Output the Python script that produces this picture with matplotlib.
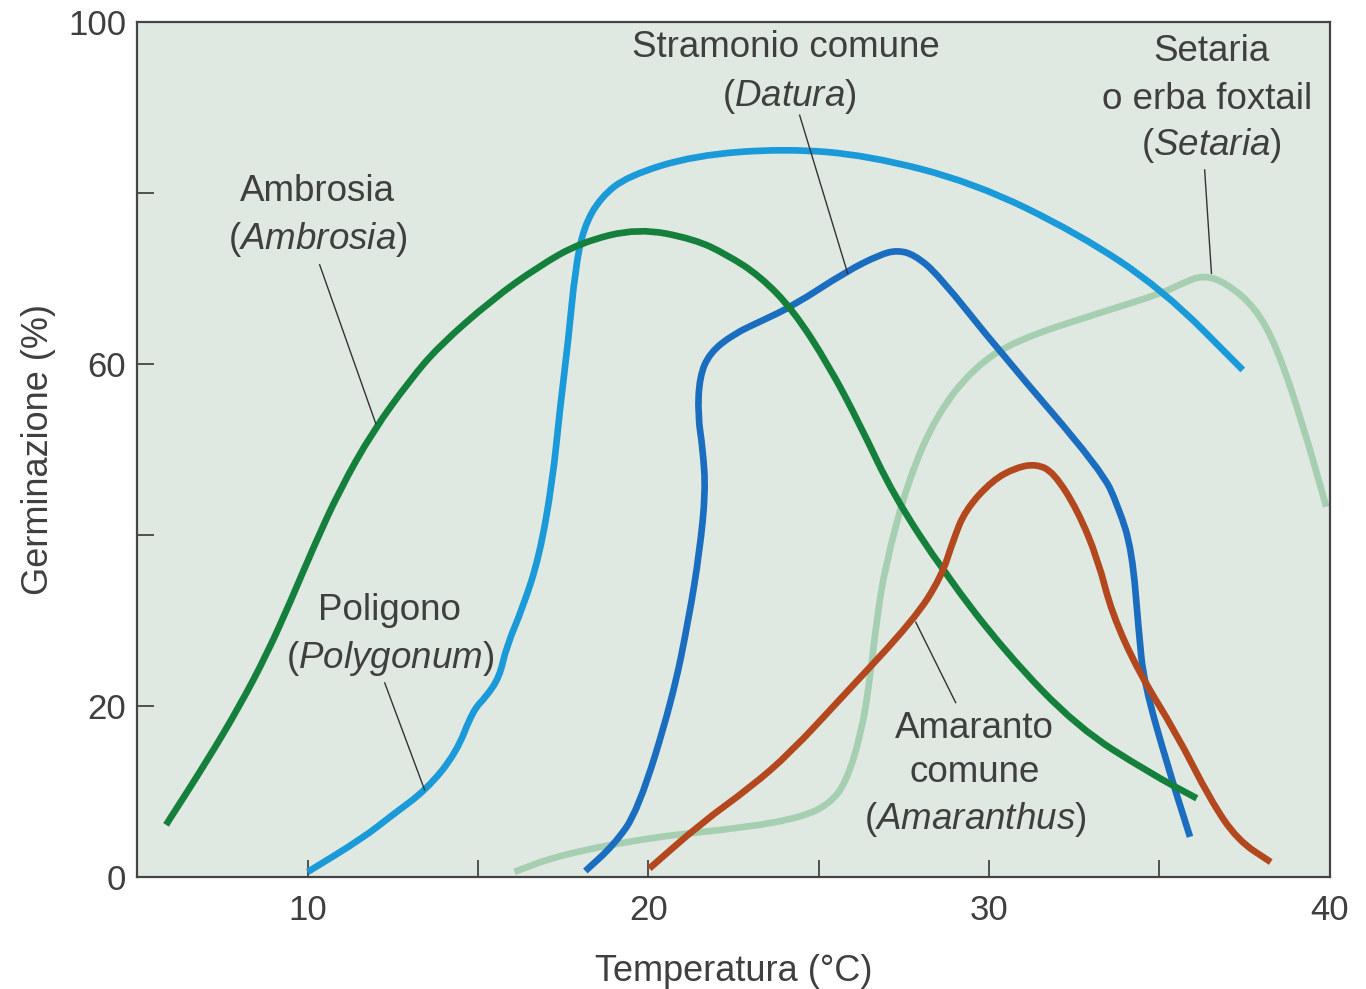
import matplotlib
matplotlib.use("Agg")
import matplotlib.pyplot as plt
from matplotlib.path import Path
from matplotlib.patches import PathPatch

plt.rcParams['font.family'] = ['Liberation Sans', 'DejaVu Sans']
plt.rcParams['mathtext.fontset'] = 'custom'
plt.rcParams['mathtext.rm'] = 'Liberation Sans'
plt.rcParams['mathtext.it'] = 'Liberation Sans:italic'

# ---- data (temperature in °C, germination in %) ----
ambrosia_x = [5.84, 7.03, 8.0, 8.79, 9.47, 10.16, 10.94, 11.92, 13.0, 13.83, 15.4, 16.77, 18.0, 19.7,
              21.35, 22.3, 23.27, 24.25, 25.3, 26.2, 27.2, 28.7, 30.5, 32.6, 34.7, 36.1]
ambrosia_y = [6.1, 13.5, 20.0, 26.0, 32.0, 38.5, 45.3, 52.2, 58.1, 62.0, 67.5, 71.4, 74.2, 75.9,
              74.6, 72.8, 70.3, 66.3, 59.8, 53.0, 44.6, 35.5, 26.2, 17.5, 12.2, 9.2]

polygonum_x = [10.0, 11.6, 12.5, 13.48, 14.36, 14.85, 15.24, 15.63, 15.83, 16.32, 16.8, 17.19, 17.39,
               17.65, 17.85, 18.1, 18.6, 19.4, 21.35, 24.0, 26.45, 29.56, 32.6, 35.1, 37.45]
polygonum_y = [0.6, 4.5, 7.3, 10.2, 14.5, 19.5, 21.1, 23.4, 26.9, 31.6, 37.5, 46.4, 54.3,
               62.8, 71.0, 76.0, 79.5, 82.0, 84.4, 85.2, 84.4, 81.2, 75.3, 68.7, 59.3]

datura_x = [18.15, 19.0, 19.7, 20.7, 21.2, 21.5, 21.68, 21.6, 21.45, 21.5, 21.8, 22.5, 23.3, 24.25,
            25.8, 26.8, 27.3, 27.8, 28.5, 30.3, 33.3, 33.8, 34.2, 34.4, 34.55, 35.25, 35.9]
datura_y = [0.7, 3.8, 7.8, 20.7, 30.5, 38.0, 45.0, 50.0, 54.0, 58.5, 61.3, 63.5, 65.0, 66.8,
            70.8, 72.8, 73.3, 72.8, 70.5, 61.5, 47.6, 43.3, 38.2, 28.5, 22.7, 12.9, 4.7]

amaranthus_x = [20.03, 21.55, 23.0, 24.16, 25.7, 27.8, 28.6, 28.95, 29.3, 30.1, 30.8, 31.4, 31.9, 32.6,
                33.2, 33.6, 34.4, 35.5, 36.5, 37.3, 38.27]
amaranthus_y = [1.0, 6.3, 10.5, 14.5, 21.1, 30.1, 35.1, 39.4, 42.9, 46.4, 47.9, 48.3, 47.3, 42.9,
                37.1, 30.9, 23.9, 16.8, 9.0, 4.3, 1.75]

setaria_x = [16.07, 17.4, 20.15, 22.9, 24.5, 25.3, 25.8, 26.25, 26.5, 26.7, 26.95, 27.6, 28.45, 29.56,
             30.8, 33.26, 35.1, 35.7, 36.3, 36.95, 37.8, 38.45, 39.2, 39.9]
setaria_y = [0.6, 2.6, 4.7, 5.8, 7.0, 8.5, 11.0, 16.8, 23.0, 30.0, 36.3, 46.1, 54.0, 59.6,
             62.8, 66.0, 68.3, 69.5, 70.4, 69.5, 66.7, 62.0, 53.1, 43.3]

x_ticks = [10, 15, 20, 25, 30, 35, 40]
x_tick_labels = ['10', '', '20', '', '30', '', '40']
y_ticks = [0, 20, 40, 60, 80, 100]
y_tick_labels = ['0', '20', '', '60', '', '100']

# ---- figure ----
fig = plt.figure(figsize=(13.66, 9.89), dpi=100)
ax = fig.add_axes([0.1006, 0.11325, 0.9734 - 0.1006, 0.97776 - 0.11325])
ax.set_facecolor('#dfe9e1')


def smooth_curve(xs, ys, color, z, lw=4.8):
    """Draw the series as a smooth quadratic-Bezier path in data coordinates."""
    pts = list(zip(xs, ys))
    verts = [pts[0]]
    codes = [Path.MOVETO]
    mid = ((pts[0][0] + pts[1][0]) / 2, (pts[0][1] + pts[1][1]) / 2)
    verts.append(mid)
    codes.append(Path.LINETO)
    for i in range(1, len(pts) - 1):
        nxt = ((pts[i][0] + pts[i + 1][0]) / 2, (pts[i][1] + pts[i + 1][1]) / 2)
        verts += [pts[i], nxt]
        codes += [Path.CURVE3, Path.CURVE3]
    verts.append(pts[-1])
    codes.append(Path.LINETO)
    patch = PathPatch(Path(verts, codes), facecolor='none', edgecolor=color, lw=lw,
                      capstyle='butt', joinstyle='round', zorder=z, transform=ax.transData)
    ax.add_patch(patch)


smooth_curve(setaria_x, setaria_y, '#a6cfb2', 2)
smooth_curve(datura_x, datura_y, '#1b6dbf', 3)
smooth_curve(polygonum_x, polygonum_y, '#1a9ad8', 4)
smooth_curve(ambrosia_x, ambrosia_y, '#14803c', 5)
smooth_curve(amaranthus_x, amaranthus_y, '#b3471e', 6)

ax.set_xlim(5, 40)
ax.set_ylim(0, 100)
ax.set_xticks(x_ticks)
ax.set_xticklabels(x_tick_labels)
ax.set_yticks(y_ticks)
ax.set_yticklabels(y_tick_labels)

tc = '#3f3f3f'
ax.tick_params(direction='in', length=12, width=1.3, color='#444444',
               labelsize=25, labelcolor=tc)
ax.tick_params(axis='x', pad=12)
ax.tick_params(axis='y', pad=8)
for s in ax.spines.values():
    s.set_color('#444444')
    s.set_linewidth(1.6)

ax.set_xlabel('Temperatura (°C)', fontsize=26, color=tc, labelpad=20)
ax.set_ylabel('Germinazione (%)', fontsize=26, color=tc, labelpad=9)

fs = 26.5


def label(x, y, s):
    ax.text(x, y, s, ha='center', va='center', fontsize=fs, color=tc, zorder=10)


def leader(x0, y0, x1, y1):
    ax.plot([x0, x1], [y0, y1], color='#333333', lw=1.0, zorder=9)


label(10.29, 80.2, 'Ambrosia')
label(10.29, 74.6, r'($\mathit{Ambrosia}$)')
leader(10.35, 71.6, 12.0, 53.0)

label(12.41, 31.2, 'Poligono')
label(12.41, 25.6, r'($\mathit{Polygonum}$)')
leader(12.26, 22.7, 13.43, 10.2)

label(24.03, 97.0, 'Stramonio comune')
label(24.15, 91.3, r'($\mathit{Datura}$)')
leader(24.44, 89.1, 25.85, 70.6)

label(36.53, 96.5, 'Setaria')
label(36.39, 90.9, 'o erba foxtail')
label(36.53, 85.5, r'($\mathit{Setaria}$)')
leader(36.33, 82.7, 36.53, 70.6)

label(29.58, 17.4, 'Amaranto')
label(29.58, 12.2, 'comune')
label(29.58, 6.7, r'($\mathit{Amaranthus}$)')
leader(29.02, 20.4, 27.85, 29.8)

fig.savefig('out.png', dpi=100)
